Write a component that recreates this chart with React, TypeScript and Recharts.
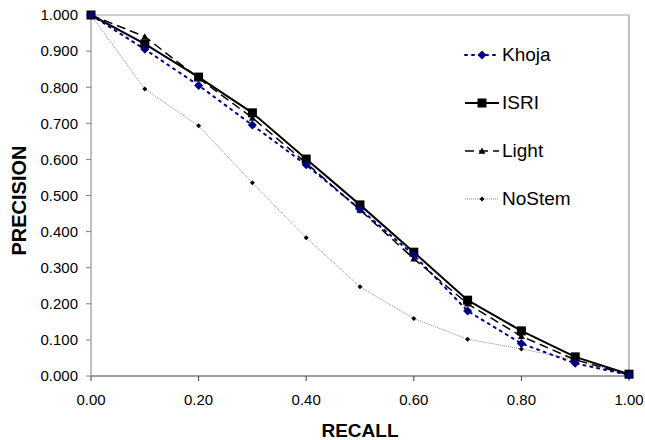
import React from "react";
import {
  LineChart, Line, XAxis, YAxis, ReferenceLine, Label
} from "recharts";

const recall = [0, 0.1, 0.2, 0.3, 0.4, 0.5, 0.6, 0.7, 0.8, 0.9, 1.0];
const khoja = [1.0, 0.905, 0.805, 0.695, 0.585, 0.462, 0.335, 0.18, 0.09, 0.035, 0.003];
const isri = [1.0, 0.92, 0.828, 0.729, 0.601, 0.474, 0.343, 0.21, 0.125, 0.053, 0.005];
const light = [1.0, 0.94, 0.825, 0.715, 0.59, 0.46, 0.325, 0.2, 0.11, 0.045, 0.003];
const noStem = [1.0, 0.795, 0.693, 0.535, 0.383, 0.247, 0.159, 0.102, 0.075, 0.045, 0.003];

const xTicks = [0, 0.2, 0.4, 0.6, 0.8, 1.0];
const yTicks = [0, 0.1, 0.2, 0.3, 0.4, 0.5, 0.6, 0.7, 0.8, 0.9, 1.0];

const data = recall.map((r, i) => ({
  recall: r,
  khoja: khoja[i],
  isri: isri[i],
  light: light[i],
  noStem: noStem[i],
}));

const FONT = "'Liberation Sans', Arial, sans-serif";

function Diamond({ cx, cy, r, fill }: any) {
  if (cx == null || cy == null) return null;
  return <path d={`M${cx},${cy - r}L${cx + r},${cy}L${cx},${cy + r}L${cx - r},${cy}Z`} fill={fill} />;
}
function Square({ cx, cy, r, fill }: any) {
  if (cx == null || cy == null) return null;
  return <rect x={cx - r} y={cy - r} width={r * 2} height={r * 2} fill={fill} />;
}
function Triangle({ cx, cy, r, fill }: any) {
  if (cx == null || cy == null) return null;
  return <path d={`M${cx},${cy - r}L${cx + r},${cy + r * 0.8}L${cx - r},${cy + r * 0.8}Z`} fill={fill} />;
}

const series = [
  { key: "khoja", name: "Khoja", stroke: "#000080", width: 2, dash: "2 5", mark: (p: any) => <Diamond key={p.index} {...p} r={4.5} fill="#000080" />, cap: "round" },
  { key: "isri", name: "ISRI", stroke: "#000000", width: 2, dash: undefined, mark: (p: any) => <Square key={p.index} {...p} r={4.5} fill="#000000" />, cap: "butt" },
  { key: "light", name: "Light", stroke: "#000000", width: 1.5, dash: "9 5", mark: (p: any) => <Triangle key={p.index} {...p} r={3.5} fill="#000000" />, cap: "butt" },
  { key: "noStem", name: "NoStem", stroke: "#8a8a8a", width: 1, dash: "1 1", mark: (p: any) => <Diamond key={p.index} {...p} r={2.5} fill="#000000" />, cap: "butt" },
];

function LegendBox() {
  return (
    <div style={{ position: "absolute", left: 464, top: 31, fontFamily: FONT, fontSize: 19 }}>
      {series.map((s) => (
        <div key={s.key} style={{ display: "flex", alignItems: "center", height: 48 }}>
          <svg width={36} height={12} style={{ marginRight: 2 }}>
            <line x1={1} y1={6} x2={35} y2={6} stroke={s.stroke} strokeWidth={s.width}
              strokeDasharray={s.dash} strokeLinecap={s.cap as any} />
            {s.mark({ cx: 18, cy: 6, index: 0 })}
          </svg>
          <span>{s.name}</span>
        </div>
      ))}
    </div>
  );
}

export default function App() {
  return (
    <div style={{ position: "absolute", left: 0, top: 0, width: 645, height: 440, background: "#fff" }}>
      <LineChart width={645} height={440} data={data}
        margin={{ top: 15, right: 16, bottom: 34, left: 30 }}>
        <XAxis dataKey="recall" type="number" domain={[0, 1]} ticks={xTicks}
          tickFormatter={(v) => Number(v).toFixed(2)}
          stroke="#404040" tickSize={5}
          tick={{ fill: "#000", fontSize: 15, fontFamily: FONT }}
          tickMargin={13}>
          <Label value="RECALL" position="insideBottom" offset={-31}
            style={{ fontFamily: FONT, fontSize: 19, fontWeight: 700, fill: "#000" }} />
        </XAxis>
        <YAxis type="number" domain={[0, 1]} ticks={yTicks} width={61}
          tickFormatter={(v) => Number(v).toFixed(3)}
          stroke="#808080" tickSize={5}
          tick={{ fill: "#000", fontSize: 15, fontFamily: FONT }}
          tickMargin={8}>
          <Label value="PRECISION" angle={-90} position="insideLeft" offset={-11} dy={5}
            style={{ fontFamily: FONT, fontSize: 20, fontWeight: 700, fill: "#000", textAnchor: "middle" }} />
        </YAxis>
        <ReferenceLine y={1} stroke="#a0a0a0" />
        <ReferenceLine x={1} stroke="#c0c0c0" strokeWidth={2} />
        {series.slice().reverse().map((s) => (
          <Line key={s.key} dataKey={s.key} name={s.name} type="linear"
            stroke={s.stroke} strokeWidth={s.width} strokeDasharray={s.dash}
            strokeLinecap={s.cap as any}
            dot={s.mark} activeDot={false} isAnimationActive={false} />
        ))}
      </LineChart>
      <LegendBox />
    </div>
  );
}
